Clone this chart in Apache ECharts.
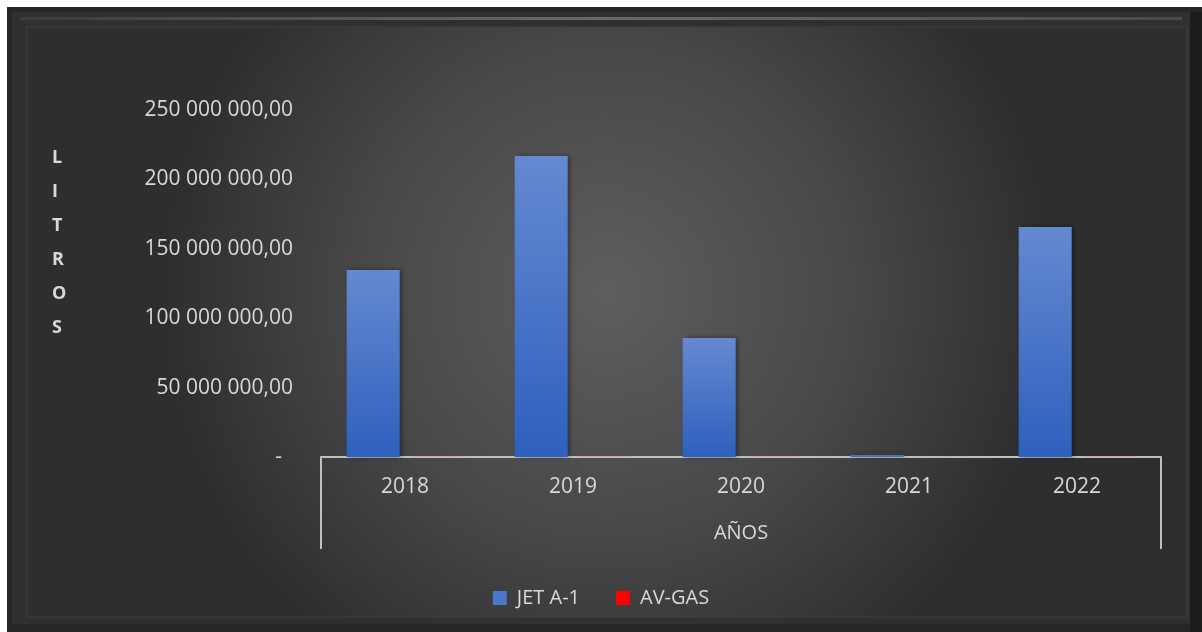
<!DOCTYPE html>
<html>
<head>
<meta charset="utf-8">
<script src="https://cdn.jsdelivr.net/npm/echarts@6/dist/echarts.min.js"></script>
<style>
  html, body { margin: 0; padding: 0; background: #ffffff; }
  #chart { width: 1202px; height: 632px; }
</style>
</head>
<body>
<div id="chart"></div>
<script>
// Litros por año y tipo de combustible
const years = ['2018', '2019', '2020', '2021', '2022'];
const jetA1 = [134700000, 216900000, 85700000, 1200000, 165700000];
const avGas = [600000, 700000, 500000, 400000, 650000];
const yTicks = [0, 50000000, 100000000, 150000000, 200000000, 250000000];

const TEXT = '#d9d9d9';
const FONT = '"Open Sans", "Liberation Sans", sans-serif';

function fmt(v) {
  if (v === 0) return '-  ';
  const s = Math.round(v).toString().replace(/\B(?=(\d{3})+(?!\d))/g, ' ');
  return s + ',00';
}

const chart = echarts.init(document.getElementById('chart'), null, { renderer: 'canvas' });

const jetColor = new echarts.graphic.LinearGradient(0, 0, 0, 1, [
  { offset: 0, color: '#6589d1' },
  { offset: 1, color: '#2e60bd' }
]);

chart.setOption({
  backgroundColor: '#ffffff',
  animation: false,
  textStyle: { fontFamily: FONT },
  graphic: [
    // outer frame
    { type: 'rect', z: -10, silent: true,
      shape: { x: 7, y: 7, width: 1195, height: 625 },
      style: { fill: '#262626' } },
    { type: 'rect', z: -9, silent: true,
      shape: { x: 12, y: 12, width: 1180, height: 612 },
      style: { fill: '#303030' } },
    // top bevel highlight
    { type: 'rect', z: -8, silent: true,
      shape: { x: 20, y: 17, width: 1162, height: 3 },
      style: { fill: new echarts.graphic.LinearGradient(0, 0, 1, 0, [
        { offset: 0, color: '#3c3c3c' }, { offset: 0.5, color: '#6a6a6a' }, { offset: 1, color: '#4a4a4a' }]) } },
    // right dark edge
    { type: 'rect', z: -8, silent: true,
      shape: { x: 1190, y: 12, width: 12, height: 620 },
      style: { fill: '#1c1c1c' } },
    // inner panel
    { type: 'rect', z: -7, silent: true,
      shape: { x: 27, y: 27, width: 1160, height: 590 },
      style: {
        fill: new echarts.graphic.RadialGradient(0.5, 0.45, 0.75, [
          { offset: 0, color: '#5e5e5e' },
          { offset: 0.55, color: '#484848' },
          { offset: 1, color: '#2e2e2e' }
        ]),
        stroke: '#404040', lineWidth: 1
      } },
    // vertical axis title
    { type: 'text', z: 10, silent: true,
      left: 52, top: 141,
      style: {
        text: 'L\nI\nT\nR\nO\nS',
        fill: TEXT, font: 'bold 18px ' + FONT,
        lineHeight: 34, align: 'center'
      } }
  ],
  legend: {
    bottom: 19,
    left: 'center',
    itemWidth: 14,
    itemHeight: 14,
    itemGap: 36,
    icon: 'rect',
    textStyle: { color: TEXT, fontSize: 20, fontFamily: FONT, padding: [0, 0, 0, 5] },
    data: [
      { name: 'JET A-1', itemStyle: { color: '#4a76cc' } },
      { name: 'AV-GAS', itemStyle: { color: '#ff0000' } }
    ]
  },
  grid: { left: 321, right: 41, top: 110, bottom: 175 },
  xAxis: [
    {
      type: 'category',
      data: years,
      axisLine: { lineStyle: { color: '#bfbfbf', width: 2 } },
      axisTick: { show: false },
      axisLabel: { color: TEXT, fontSize: 21, margin: 20, fontFamily: FONT }
    },
    {
      type: 'category',
      data: ['AÑOS'],
      position: 'bottom',
      axisLine: { show: false },
      axisTick: { show: true, length: 92, lineStyle: { color: '#bfbfbf', width: 2 } },
      axisLabel: { color: TEXT, fontSize: 20, margin: 66, fontFamily: FONT }
    }
  ],
  yAxis: {
    type: 'value',
    min: yTicks[0],
    max: yTicks[yTicks.length - 1],
    interval: yTicks[1] - yTicks[0],
    splitLine: { show: false },
    axisLine: { show: false },
    axisTick: { show: false },
    axisLabel: { color: TEXT, fontSize: 21, margin: 28, fontFamily: FONT, formatter: fmt }
  },
  series: [
    {
      name: 'JET A-1',
      type: 'bar',
      data: jetA1,
      barWidth: 53,
      barGap: '20%',
      itemStyle: {
        color: jetColor,
        shadowBlur: 5, shadowOffsetX: 2, shadowOffsetY: 0,
        shadowColor: 'rgba(0,0,0,0.45)'
      }
    },
    {
      name: 'AV-GAS',
      type: 'bar',
      data: avGas,
      barWidth: 53,
      itemStyle: { color: 'rgba(255,120,120,0.45)' }
    }
  ]
});
</script>
</body>
</html>
